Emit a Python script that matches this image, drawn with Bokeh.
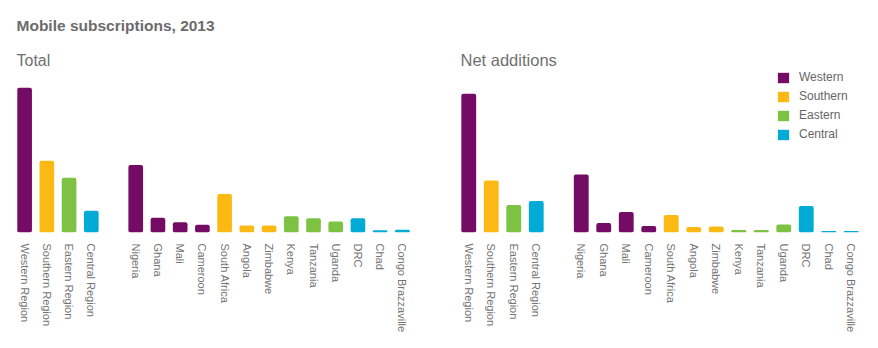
from bokeh.plotting import figure
from bokeh.models import ColumnDataSource, FactorRange, Range1d, Title, Legend, LegendItem
from bokeh.layouts import row
from bokeh.embed import file_html
from bokeh.resources import INLINE

# ---------------- data ----------------
regions = ["Western Region", "Southern Region", "Eastern Region", "Central Region"]
region_groups = ["Western", "Southern", "Eastern", "Central"]
countries = ["Nigeria", "Ghana", "Mali", "Cameroon", "South Africa", "Angola",
             "Zimbabwe", "Kenya", "Tanzania", "Uganda", "DRC", "Chad",
             "Congo Brazzaville"]
country_groups = ["Western", "Western", "Western", "Western", "Southern",
                  "Southern", "Southern", "Eastern", "Eastern", "Eastern",
                  "Central", "Central", "Central"]
# Total subscriptions (millions, estimated)
total_regions = [270, 134, 102, 40.5]
total_countries = [126, 27.4, 19.2, 14.4, 72, 13, 13, 30.4, 26.7, 20.5, 26.7, 4.3, 5.0]
# Net additions (millions, estimated)
net_regions = [27.7, 10.4, 5.5, 6.3]
net_countries = [11.6, 1.9, 4.1, 1.3, 3.5, 1.1, 1.2, 0.5, 0.5, 1.6, 5.3, 0.3, 0.3]

group_colors = {"Western": "#740C66", "Southern": "#FDB913",
                "Eastern": "#7DC243", "Central": "#00ACD6"}

FONT = "Liberation Sans"
SPACER = " "
H = 348
TOP = 68
BASE = 232


def panel(width, bl, br, vals_r, vals_c, peak_px, subtitle, sub_size,
          main_title=None, legend=False):
    factors = regions + [SPACER] + countries
    vals = list(vals_r) + [0] + list(vals_c)
    groups = region_groups + ["Western"] + country_groups
    colors = [group_colors[g] for g in groups]
    alphas = [1] * len(regions) + [0] + [1] * len(countries)
    src = ColumnDataSource(dict(x=factors, top=vals, color=colors, group=groups, alpha=alphas))
    frame_h = BASE - TOP
    y_end = max(vals) * frame_h / peak_px
    p = figure(width=width, height=H, x_range=FactorRange(*factors, range_padding=0),
               y_range=Range1d(0, y_end), output_backend="svg", toolbar_location=None,
               y_axis_location=None, min_border_left=bl, min_border_right=br,
               min_border_top=TOP, min_border_bottom=H - BASE)
    r = p.vbar(x="x", top="top", width=0.66, source=src, fill_color="color",
               fill_alpha="alpha", line_color=None, border_radius=2)
    p.add_layout(Title(text=subtitle, text_font=FONT, text_font_size=sub_size,
                       text_font_style="normal", text_color="#707070", align="left",
                       offset=3, standoff=0), "above")
    if main_title:
        # spacer between the subtitle and the main title
        p.add_layout(Title(text=" ", text_font=FONT, text_font_size="2px",
                           text_color="#ffffff", standoff=12), "above")
        p.add_layout(Title(text=main_title, text_font=FONT, text_font_size="15.5px",
                           text_font_style="bold", text_color="#6b6b6b", align="left",
                           offset=3, standoff=0), "above")
    p.xgrid.visible = False
    p.ygrid.visible = False
    p.outline_line_color = None
    ax = p.xaxis[0]
    ax.axis_line_color = None
    ax.major_tick_line_color = None
    ax.minor_tick_line_color = None
    ax.major_tick_out = 0
    ax.major_tick_in = 0
    ax.major_label_standoff = 11
    ax.major_label_orientation = "vertical"
    ax.major_label_text_font = FONT
    ax.major_label_text_font_size = "11px"
    ax.major_label_text_color = "#737373"
    if legend:
        items = [LegendItem(label=g, renderers=[r], index=i)
                 for i, g in enumerate(region_groups)]
        lg = Legend(items=items, location=(319, 91), border_line_color=None,
                    background_fill_alpha=0, padding=0, margin=0, spacing=5,
                    glyph_width=14, glyph_height=13, label_height=14,
                    label_standoff=9, label_text_font=FONT,
                    label_text_font_size="12px", label_text_color="#666666")
        p.add_layout(lg, "center")
    return p


left = panel(440, 13, 27, total_regions, total_countries, 144.7, "Total", "16px",
             main_title="Mobile subscriptions, 2013")
right = panel(438, 17, 16, net_regions, net_countries, 138.7, "Net additions", "16.5px",
              legend=True)

layout = row(left, right)
open("out.html", "w").write(file_html(layout, INLINE))
